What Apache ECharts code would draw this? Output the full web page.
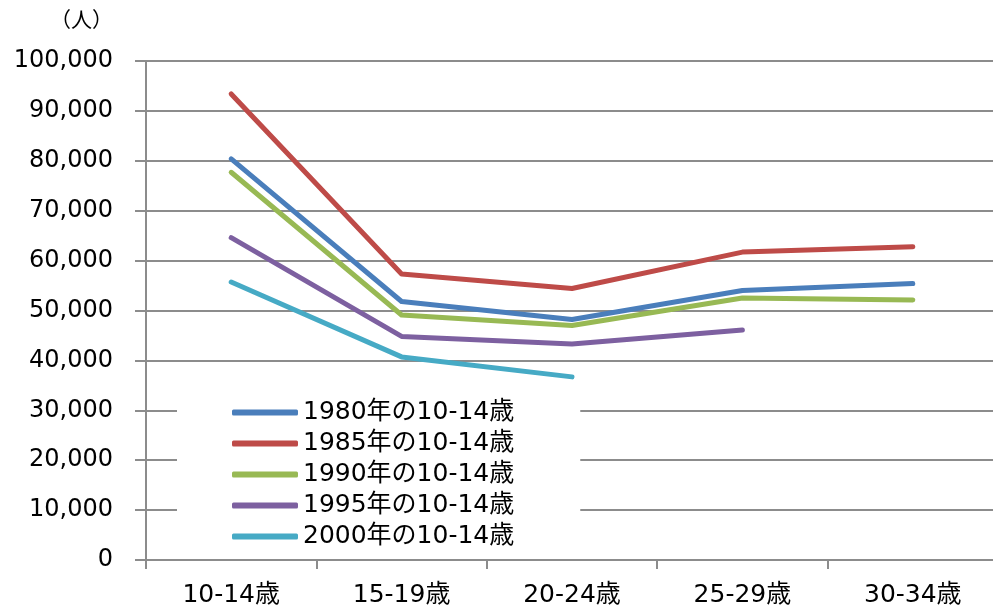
<!DOCTYPE html>
<html>
<head>
<meta charset="utf-8">
<script src="https://cdn.jsdelivr.net/npm/echarts@6/dist/echarts.min.js"></script>
<style>
  html, body { margin: 0; padding: 0; background: #fff; overflow: hidden; }
  #chart { width: 1000px; height: 608px; }
</style>
</head>
<body>
<div id="chart"></div>
<script>
// Age groups along the x axis
const ageGroups = ['10-14歳', '15-19歳', '20-24歳', '25-29歳', '30-34歳'];

// Cohorts: population followed from age 10-14 onward (persons)
const cohortNames = ['1980年の10-14歳', '1985年の10-14歳', '1990年の10-14歳', '1995年の10-14歳', '2000年の10-14歳'];
const cohort1980 = [80400, 51800, 48200, 54000, 55400];
const cohort1985 = [93400, 57300, 54400, 61700, 62800];
const cohort1990 = [77700, 49100, 47000, 52500, 52100];
const cohort1995 = [64600, 44800, 43300, 46100, null];
const cohort2000 = [55700, 40700, 36700, null, null];

const cohortValues = [cohort1980, cohort1985, cohort1990, cohort1995, cohort2000];
const cohortColors = ['#4a7ebb', '#be4b48', '#98b954', '#7d60a0', '#46aac5'];

const fontFamily = '"DejaVu Sans", "Noto Sans CJK JP", sans-serif';
const gridColor = '#8c8c8c';

const chart = echarts.init(document.getElementById('chart'));

chart.setOption({
  animation: false,
  backgroundColor: '#fff',
  title: {
    text: '（人）',
    left: 45,
    top: 6,
    textStyle: { fontFamily: fontFamily, fontSize: 21, fontWeight: 'normal', color: '#000' }
  },
  grid: { left: 146, top: 61, width: 852, height: 501 },
  legend: {
    orient: 'vertical',
    left: 177,
    top: 396,
    padding: [4, 66, 6, 55],
    backgroundColor: '#fff',
    itemWidth: 66,
    itemHeight: 6,
    itemGap: 6,
    icon: 'roundRect',
    textStyle: { fontFamily: fontFamily, fontSize: 25, color: '#000', lineHeight: 24 },
    data: cohortNames
  },
  xAxis: {
    type: 'category',
    data: ageGroups,
    boundaryGap: true,
    axisLine: { lineStyle: { color: gridColor, width: 2 } },
    axisTick: { show: true, length: 9, alignWithLabel: false, lineStyle: { color: gridColor, width: 2 } },
    axisLabel: { margin: 23, fontFamily: fontFamily, fontSize: 25, color: '#000' }
  },
  yAxis: {
    type: 'value',
    min: 0,
    max: 100000,
    interval: 10000,
    axisLine: { show: true, lineStyle: { color: gridColor, width: 2 } },
    axisTick: { show: true, length: 11, lineStyle: { color: gridColor, width: 2 } },
    splitLine: { show: true, lineStyle: { color: gridColor, width: 2 } },
    axisLabel: {
      margin: 33,
      fontFamily: fontFamily,
      fontSize: 24,
      color: '#000',
      formatter: v => v.toLocaleString('en-US')
    }
  },
  series: cohortNames.map((name, i) => ({
    name: name,
    type: 'line',
    data: cohortValues[i],
    symbol: 'none',
    connectNulls: false,
    color: cohortColors[i],
    lineStyle: { width: 5, color: cohortColors[i], cap: 'round', join: 'round' },
    itemStyle: { color: cohortColors[i] }
  }))
});
</script>
</body>
</html>
